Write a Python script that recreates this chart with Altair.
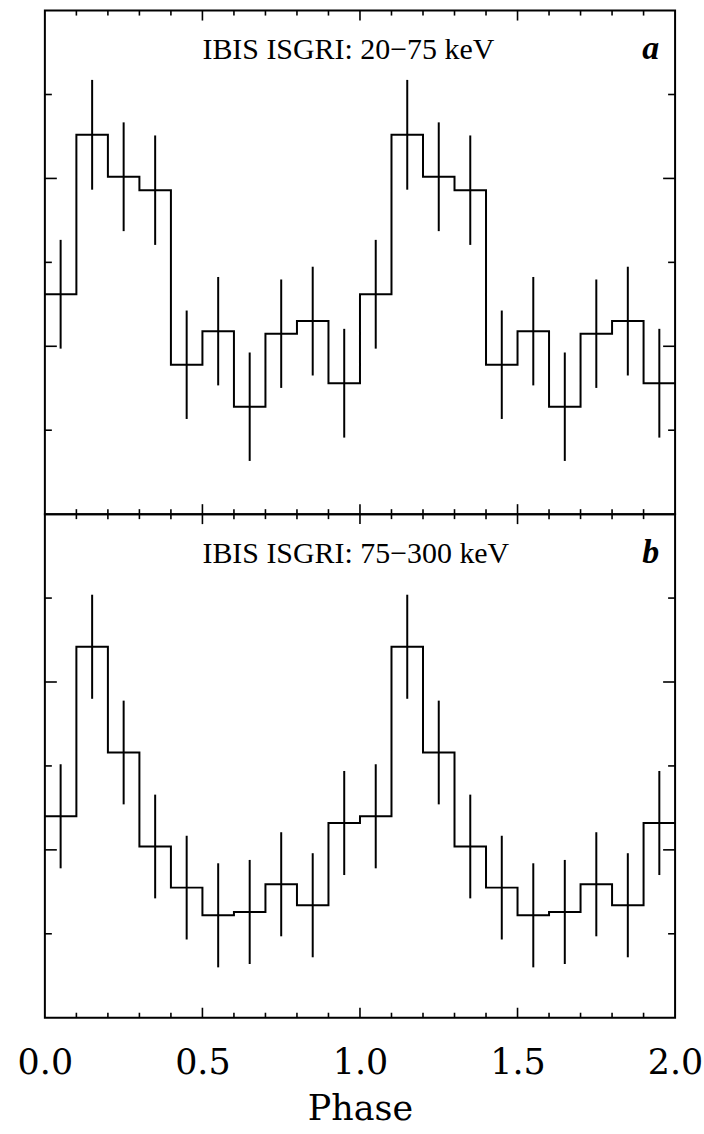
import altair as alt
import pandas as pd

# ---- data (10 phase bins, plotted over two cycles) ----
bin_width = 0.1
n_cycles = 2
top_rate = [1.31, 2.26, 2.01, 1.93, 0.89, 1.09, 0.64, 1.075, 1.15, 0.78]
top_err = [0.324, 0.327, 0.324, 0.326, 0.323, 0.323, 0.323, 0.323, 0.324, 0.324]
bot_rate = [1.20, 2.21, 1.58, 1.02, 0.775, 0.61, 0.63, 0.795, 0.67, 1.16]
bot_err = [0.31, 0.31, 0.309, 0.309, 0.309, 0.31, 0.31, 0.31, 0.31, 0.31]

x_major = [0.5, 1.0, 1.5]
x_minor = [0.1, 0.2, 0.3, 0.4, 0.6, 0.7, 0.8, 0.9, 1.1, 1.2, 1.3, 1.4, 1.6, 1.7, 1.8, 1.9]
y_major = [1.0, 2.0]
y_minor = [0.5, 1.5, 2.5]
x_labels = [0.0, 0.5, 1.0, 1.5, 2.0]

top_title = "IBIS ISGRI: 20\u221275 keV"
bot_title = "IBIS ISGRI: 75\u2212300 keV"
title_pos = (0.5, 2.71)
letter_pos = (1.95, 2.71)

W, H = 632, 505
FONT = "Liberation Serif"
AXFONT = "DejaVu Serif"
XS = alt.Scale(domain=[0, 2], nice=False, zero=False)
YS = alt.Scale(domain=[0, 3], nice=False, zero=False)


def step_df(rate):
    rows = []
    k = 0
    for c in range(n_cycles):
        for i, v in enumerate(rate):
            x0 = c + i * bin_width
            rows.append({"phase": x0, "rate": v, "o": k}); k += 1
            rows.append({"phase": x0 + bin_width, "rate": v, "o": k}); k += 1
    return pd.DataFrame(rows)


def err_df(rate, err):
    rows = []
    for c in range(n_cycles):
        for i, (v, e) in enumerate(zip(rate, err)):
            rows.append({"phase": c + (i + 0.5) * bin_width, "lo": v - e, "hi": v + e})
    return pd.DataFrame(rows)


def tick_layers(xaxis):
    layers = []
    for pos, ln in ((x_major, 10), (x_minor, 5)):
        df = pd.DataFrame({"p": pos})
        base = alt.Chart(df).mark_rule(color="black", strokeWidth=1.6)
        layers.append(base.encode(x=alt.X("p:Q", scale=XS, axis=xaxis),
                                  y=alt.value(H), y2=alt.value(H - ln)))
        layers.append(base.encode(x=alt.X("p:Q", scale=XS, axis=xaxis),
                                  y=alt.value(0), y2=alt.value(ln)))
    for pos, ln in ((y_major, 12), (y_minor, 7)):
        df = pd.DataFrame({"p": pos})
        base = alt.Chart(df).mark_rule(color="black", strokeWidth=1.6)
        layers.append(base.encode(y=alt.Y("p:Q", scale=YS, axis=None),
                                  x=alt.value(0), x2=alt.value(ln)))
        layers.append(base.encode(y=alt.Y("p:Q", scale=YS, axis=None),
                                  x=alt.value(W), x2=alt.value(W - ln)))
    return layers


def panel(rate, err, title, letter, show_axis):
    if show_axis:
        xaxis = alt.Axis(values=x_labels, format=".1f", labelFont=AXFONT, labelFontSize=35,
                         labelColor="black", labelFlush=False, labelOverlap=False,
                         labelBound=False, ticks=False, tickSize=0, domain=False, grid=False,
                         labelPadding=28, title="Phase", titleFont=AXFONT, titleFontSize=35,
                         titleFontWeight="normal", titleColor="black", titlePadding=11)
    else:
        xaxis = None
    line = alt.Chart(step_df(rate)).mark_line(color="black", strokeWidth=2).encode(
        x=alt.X("phase:Q", scale=XS, axis=xaxis),
        y=alt.Y("rate:Q", scale=YS, axis=None),
        order="o:Q",
    )
    errs = alt.Chart(err_df(rate, err)).mark_rule(color="black", strokeWidth=2).encode(
        x=alt.X("phase:Q", scale=XS, axis=xaxis),
        y=alt.Y("lo:Q", scale=YS, axis=None),
        y2="hi:Q",
    )
    tdf = pd.DataFrame({"x": [title_pos[0]], "y": [title_pos[1]], "t": [title]})
    ttl = alt.Chart(tdf).mark_text(font=FONT, fontSize=30, align="left",
                                   baseline="alphabetic", color="black").encode(
        x=alt.X("x:Q", scale=XS, axis=xaxis), y=alt.Y("y:Q", scale=YS, axis=None), text="t:N")
    ldf = pd.DataFrame({"x": [letter_pos[0]], "y": [letter_pos[1]], "t": [letter]})
    let = alt.Chart(ldf).mark_text(font=FONT, fontSize=34, fontStyle="italic", fontWeight="bold",
                                   align="right", baseline="alphabetic", color="black").encode(
        x=alt.X("x:Q", scale=XS, axis=xaxis), y=alt.Y("y:Q", scale=YS, axis=None), text="t:N")
    return alt.layer(line, errs, ttl, let, *tick_layers(xaxis)).properties(width=W, height=H)


top = panel(top_rate, top_err, top_title, "a", False)
bot = panel(bot_rate, bot_err, bot_title, "b", True)

chart = alt.vconcat(top, bot, spacing=0, bounds="flush").properties(
    padding={"left": 16, "top": 7, "right": 0, "bottom": 0},
    background="white",
).configure_view(stroke="black", strokeWidth=2)

chart.save("out.html", embed_options={"renderer": "svg", "actions": False})
